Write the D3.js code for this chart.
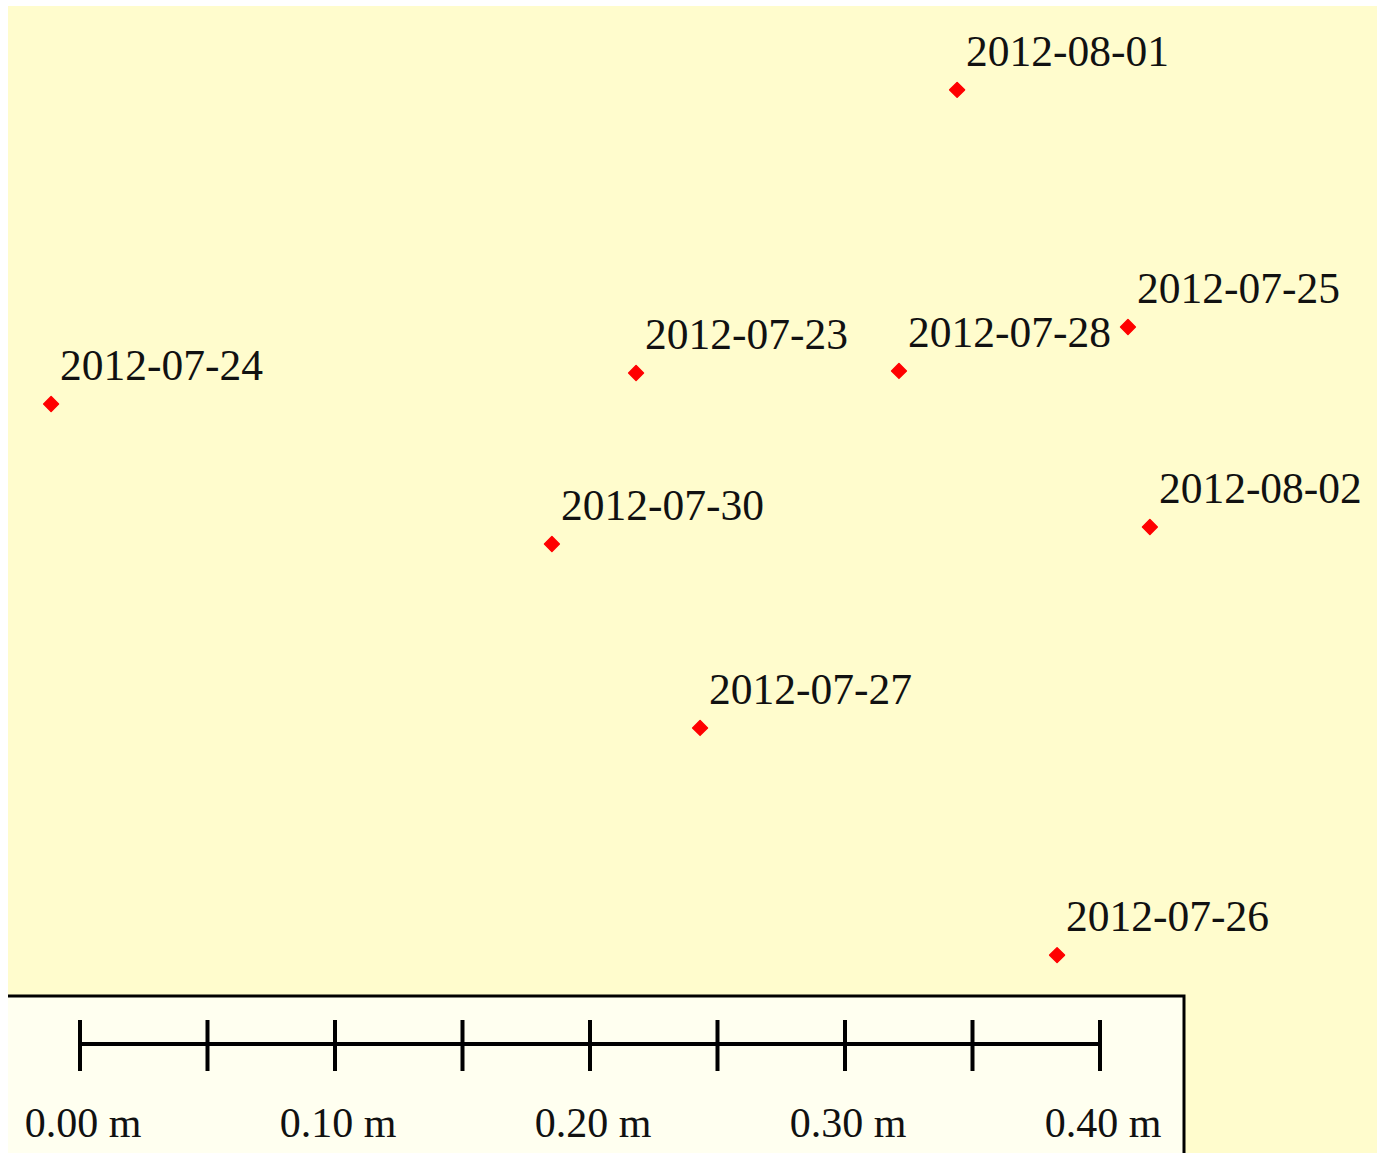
<!DOCTYPE html>
<html>
<head>
<meta charset="utf-8">
<script src="https://cdn.jsdelivr.net/npm/d3@7"></script>
<style>
  html, body { margin: 0; padding: 0; background: #ffffff; }
  svg { display: block; }
  text { font-family: "Liberation Serif", "Times New Roman", serif; }
</style>
</head>
<body>
<div id="chart"></div>
<script>
// Survey dates of the marker positions
const dates = ["2012-07-23", "2012-07-24", "2012-07-25", "2012-07-26", "2012-07-27",
               "2012-07-28", "2012-07-30", "2012-08-01", "2012-08-02"];
// Easting of each position, metres from the west edge of the map frame
const eastM = [0.2463, 0.0169, 0.4392, 0.4114, 0.2714, 0.3494, 0.2133, 0.3722, 0.4478];
// Northing of each position, metres from the south edge of the map frame
const northM = [0.3059, 0.2937, 0.3239, 0.0776, 0.1667, 0.3067, 0.2388, 0.4169, 0.2455];
// Scale bar tick values (m) and the labelled subset
const scaleTicks = [0, 0.05, 0.10, 0.15, 0.20, 0.25, 0.30, 0.35, 0.40];
const scaleLabels = [0, 0.10, 0.20, 0.30, 0.40];

const W = 1377, H = 1153;
const frame = { left: 8, top: 6, right: 1377, bottom: 1153 };
const pxPerMetre = 2550;

const svg = d3.select("#chart").append("svg")
  .attr("width", W).attr("height", H);

// Map frame background
svg.append("rect")
  .attr("x", frame.left).attr("y", frame.top)
  .attr("width", frame.right - frame.left).attr("height", frame.bottom - frame.top)
  .attr("fill", "#fffccd");

const x = d3.scaleLinear()
  .domain([0, (frame.right - frame.left) / pxPerMetre])
  .range([frame.left, frame.right]);
const y = d3.scaleLinear()
  .domain([0, (frame.bottom - frame.top) / pxPerMetre])
  .range([frame.bottom, frame.top]);

const points = dates.map((d, i) => ({ date: d, e: eastM[i], n: northM[i] }));

// Markers: small red diamonds
const g = svg.append("g");
g.selectAll("path.pt")
  .data(points)
  .join("path")
  .attr("class", "pt")
  .attr("d", d3.symbol().type(d3.symbolSquare).size(110))
  .attr("transform", d => `translate(${x(d.e)},${y(d.n)}) rotate(45)`)
  .attr("fill", "#ff0000")
  .attr("stroke", "#ff0000")
  .attr("stroke-width", 1.5)
  .attr("stroke-linejoin", "round");

g.selectAll("text.lbl")
  .data(points)
  .join("text")
  .attr("class", "lbl")
  .attr("x", d => x(d.e) + 9)
  .attr("y", d => y(d.n) - 24)
  .attr("font-size", 43.5)
  .attr("fill", "#111111")
  .text(d => d.date);

// Scale bar panel: fill, then top and right border lines
const panel = svg.append("g");
const panelTop = 996, panelRight = 1184;
panel.append("rect")
  .attr("x", frame.left).attr("y", panelTop)
  .attr("width", panelRight - frame.left).attr("height", H - panelTop)
  .attr("fill", "#fffff0");
panel.append("path")
  .attr("d", `M${frame.left},${panelTop}H${panelRight}V${H}`)
  .attr("fill", "none")
  .attr("stroke", "#000000")
  .attr("stroke-width", 3);

const sx = d3.scaleLinear().domain([0, 0.40]).range([80, 80 + 0.40 * pxPerMetre]);
const barY = 1044;

panel.append("line")
  .attr("x1", sx(0)).attr("x2", sx(0.40))
  .attr("y1", barY).attr("y2", barY)
  .attr("stroke", "#000000").attr("stroke-width", 4);

panel.selectAll("line.tick")
  .data(scaleTicks)
  .join("line")
  .attr("class", "tick")
  .attr("x1", d => sx(d)).attr("x2", d => sx(d))
  .attr("y1", 1020).attr("y2", 1071)
  .attr("stroke", "#000000").attr("stroke-width", 4);

panel.selectAll("text.sl")
  .data(scaleLabels)
  .join("text")
  .attr("class", "sl")
  .attr("x", d => sx(d) + 3)
  .attr("y", 1137)
  .attr("text-anchor", "middle")
  .attr("font-size", 42)
  .attr("fill", "#111111")
  .text(d => d3.format(".2f")(d) + " m");
</script>
</body>
</html>
